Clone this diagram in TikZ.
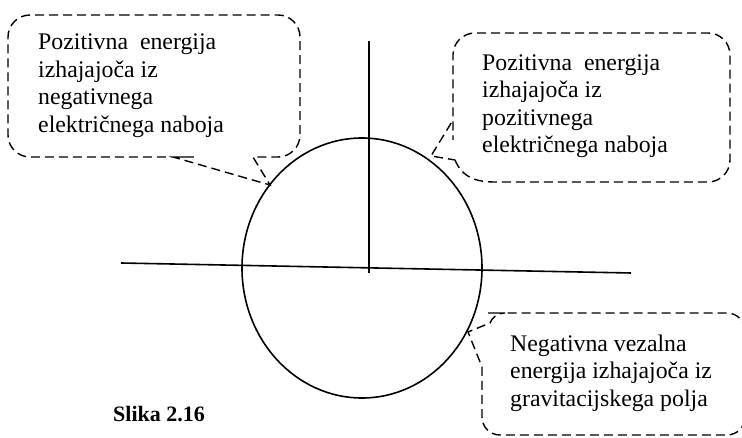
\documentclass[tikz,border=0pt]{standalone}
\usepackage{fontspec}
\setmainfont{Liberation Serif}
\usepackage{tikz}

\begin{document}
\begin{tikzpicture}[x=1pt, y=-1pt,
		axis/.style={line width=1.6pt},
		callout/.style={line width=1.4pt, dash pattern=on 9pt off 5pt},
		txt/.style={anchor=north west, inner sep=0pt, align=left, font=\fontsize{23.8}{27.5}\selectfont}]
		\useasboundingbox (0,0) rectangle (742,438);
		\def\rc{22pt}
		% ellipse and axes
		\draw[axis] (362,268) ellipse [x radius=120, y radius=130];
		\coordinate (xl) at (121,263);
		\coordinate (xr) at (631,273);
		\coordinate (zt) at (369,41);
		\coordinate (zb) at (369,273);
		\draw[axis] (xl) -- (xr);
		\draw[axis] (zt) -- (zb);
		% pointer tips on the ellipse
		\coordinate (tipa) at (270,185);
		\coordinate (tipb) at (431,156);
		\coordinate (tipc) at (468,332);
		% (a) negative charge
		\draw[callout] (150,15) [rounded corners=\rc] -- (8,15) -- (8,157) -- (172,157)
			[sharp corners] -- (173,157) -- (tipa) -- (253,157) -- (256,157)
			[rounded corners=\rc] -- (300,157) -- (300,15) -- cycle;
		\node[txt] (negtxt) at (38,34) {Pozitivna\ \ energija\\izhajajoča iz\\negativnega\\električnega naboja};
		% (b) positive charge
		\draw[callout] (455,160) .. controls (462,177) and (475,182) .. (495,182)
			[rounded corners=\rc] -- (730,182) -- (730,33) -- (453,33) -- (453,118)
			[sharp corners] -- (453,120) -- (tipb) -- cycle;
		\node[txt] (postxt) at (482,54.5) {Pozitivna\ \ energija\\izhajajoča iz\\pozitivnega\\električnega naboja};
		% (c) gravitational field
		\draw[callout] (482,367) [rounded corners=18pt] -- (482,435) -- (745,435) -- (745,313) -- (506,313)
			[sharp corners] -- (505,313) .. controls (497,313) and (492,318) .. (490,323) -- (tipc) -- (482,367);
		\node[txt] (gravtxt) at (510,334.5) {Negativna vezalna\\energija izhajajoča iz\\gravitacijskega polja};
		% caption
		\node[anchor=base west, inner sep=0pt, font=\bfseries\fontsize{22}{26}\selectfont] (caption) at (113,421.5) {Slika 2.16};
	\end{tikzpicture}
\end{document}
